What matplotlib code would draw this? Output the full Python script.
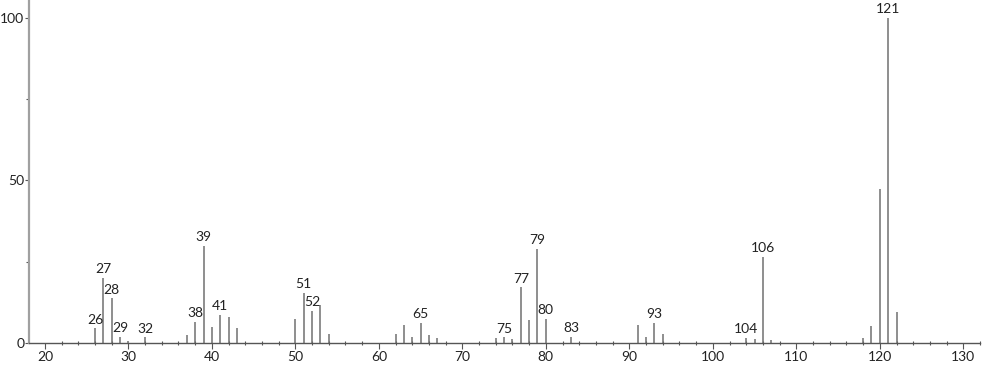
import numpy as np
import matplotlib.pyplot as plt
from matplotlib.ticker import MultipleLocator

mz = [26, 27, 28, 29, 30, 32, 37, 38, 39, 40, 41, 42, 43,
      50, 51, 52, 53, 54, 62, 63, 64, 65, 66, 67,
      74, 75, 76, 77, 78, 79, 80, 83, 91, 92, 93, 94,
      104, 105, 106, 107, 118, 119, 120, 121, 122]
intensity = [4.5, 20.1, 13.7, 1.9, 0.6, 1.7, 2.5, 6.5, 29.8, 4.9, 8.6, 8.1, 4.5,
             7.3, 15.3, 9.8, 11.7, 2.8, 2.7, 5.6, 1.9, 6.3, 2.4, 1.5,
             1.5, 1.7, 1.2, 17.1, 7.1, 28.9, 7.3, 1.8, 5.4, 1.9, 6.3, 2.9,
             1.5, 1.3, 26.4, 0.8, 1.5, 5.2, 47.3, 100.0, 9.5]
labelled = [26, 27, 28, 29, 32, 38, 39, 41, 51, 52, 65, 75, 77, 79, 80, 83,
            93, 104, 106, 121]

plt.rcParams['font.family'] = ['Lato', 'DejaVu Sans']

fig = plt.figure(figsize=(9.82, 3.65), dpi=100)
ax = fig.add_axes([29 / 982, 22 / 365, 951 / 982, 343 / 365])

ax.vlines(mz, 0, intensity, color='#707070', linewidth=1.1)

for m, v in zip(mz, intensity):
    if m in labelled:
        ax.annotate(str(m), (m, v), xytext=(0, 2), textcoords='offset points',
                    ha='center', va='bottom', fontsize=10, color='#222222')

ax.set_xlim(18.1, 132)
ax.set_ylim(0, 105.5)

ax.spines['top'].set_visible(False)
ax.spines['right'].set_visible(False)
ax.spines['left'].set_color('#a0a0a0')
ax.spines['left'].set_linewidth(1.6)
ax.spines['bottom'].set_color('#555555')
ax.spines['bottom'].set_linewidth(1.0)

ax.xaxis.set_major_locator(MultipleLocator(10))
ax.xaxis.set_minor_locator(MultipleLocator(2))
ax.yaxis.set_major_locator(MultipleLocator(50))
ax.yaxis.set_minor_locator(MultipleLocator(25))

ax.tick_params(axis='x', which='major', direction='out', length=4, width=0.8,
               color='#555555', labelsize=10, labelcolor='#222222', pad=2)
ax.tick_params(axis='x', which='minor', direction='inout', length=3, width=0.8,
               color='#555555')
ax.tick_params(axis='y', which='major', direction='out', length=3, width=0.8,
               color='#555555', labelsize=10, labelcolor='#222222', pad=0.5)
ax.tick_params(axis='y', which='minor', direction='out', length=2, width=0.8,
               color='#555555')

fig.savefig('out.png', dpi=100)
